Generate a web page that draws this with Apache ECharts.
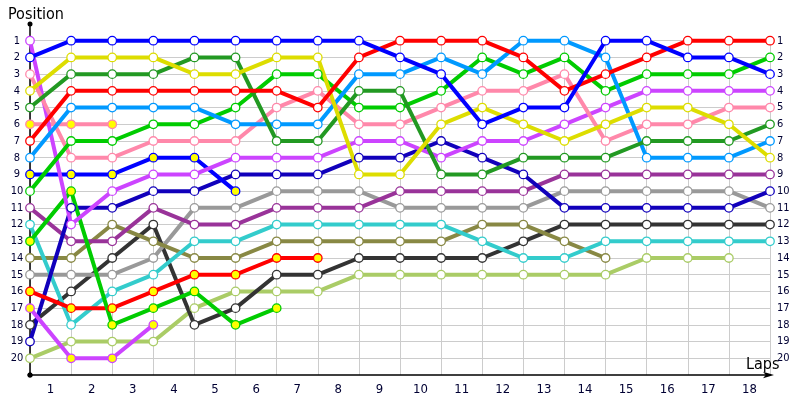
<!DOCTYPE html>
<html>
<head>
<meta charset="utf-8">
<script src="https://cdn.jsdelivr.net/npm/echarts@6/dist/echarts.min.js"></script>
<style>
html,body{margin:0;padding:0;background:#fff;}
#chart{width:800px;height:400px;}
</style>
</head>
<body>
<div id="chart"></div>
<script>
// Laps 0 (start) .. 18
const laps = [0,1,2,3,4,5,6,7,8,9,10,11,12,13,14,15,16,17,18];
const lapLabels = ['1','2','3','4','5','6','7','8','9','10','11','12','13','14','15','16','17','18'];
const positionTicks = [1,2,3,4,5,6,7,8,9,10,11,12,13,14,15,16,17,18,19,20];

// Position per lap (null = not running)
const posBlue       = [2,1,1,1,1,1,1,1,1,2,3,6,5,5,1,1,2,2,3];
const posYellow     = [4,2,2,2,3,3,2,2,9,9,6,5,6,7,6,5,5,6,8];
const posDarkGreen  = [5,3,3,3,2,2,7,7,4,4,9,9,8,8,8,7,7,7,6];
const posRed        = [7,4,4,4,4,4,4,5,2,1,1,1,2,4,3,2,1,1,1];
const posLightBlue  = [8,5,5,5,5,6,6,6,3,3,2,3,1,1,2,8,8,8,7];
const posPink       = [3,8,8,7,7,7,5,4,6,6,5,4,4,3,7,6,6,5,5];
const posPinkOut    = [6,6,6];
const posGreen      = [10,7,7,6,6,5,3,3,5,5,4,2,3,2,4,3,3,3,2];
const posBlueOut    = [9,9,9,8,8,10];
const posViolet     = [1,12,10,9,9,8,8,8,7,7,8,7,7,6,5,4,4,4,4];
const posVioletOut  = [17,20,20,18];
const posDarkBlue   = [19,11,11,10,10,9,9,9,8,8,7,8,9,11,11,11,11,11,10];
const posPurple     = [11,13,13,11,12,12,11,11,11,10,10,10,10,9,9,9,9,9,9];
const posCyan       = [12,18,16,15,13,13,12,12,12,12,12,13,14,14,13,13,13,13,13];
const posOlive      = [14,14,12,13,14,14,13,13,13,13,13,12,12,13,14];
const posGray       = [15,15,15,14,11,11,10,10,10,11,11,11,11,10,10,10,10,10,11];
const posDarkGray   = [18,16,14,12,18,17,15,15,14,14,14,14,13,12,12,12,12,12,12];
const posRedOut     = [16,17,17,16,15,15,14,14];
const posGreenOut   = [13,10,18,17,16,18,17];
const posLightGreen = [20,19,19,19,17,16,16,16,15,15,15,15,15,15,15,14,14,14];

const drivers = [
  {pos: posLightGreen, color:'#aacc66', fill:'#ffffff'},
  {pos: posDarkGray,   color:'#333333', fill:'#ffffff'},
  {pos: posGray,       color:'#999999', fill:'#ffffff'},
  {pos: posOlive,      color:'#888844', fill:'#ffffff'},
  {pos: posCyan,       color:'#33cccc', fill:'#ffffff'},
  {pos: posPurple,     color:'#993399', fill:'#ffffff'},
  {pos: posDarkBlue,   color:'#1100bb', fill:'#ffffff'},
  {pos: posRedOut,     color:'#ff0000', fill:'#ffff00'},
  {pos: posGreenOut,   color:'#00cc00', fill:'#ffff00'},
  {pos: posVioletOut,  color:'#cc44ff', fill:'#ffff00'},
  {pos: posBlueOut,    color:'#0000ff', fill:'#ffff00'},
  {pos: posPinkOut,    color:'#ff88aa', fill:'#ffff00'},
  {pos: posViolet,     color:'#cc44ff', fill:'#ffffff'},
  {pos: posPink,       color:'#ff88aa', fill:'#ffffff'},
  {pos: posGreen,      color:'#00cc00', fill:'#ffffff'},
  {pos: posLightBlue,  color:'#0099ff', fill:'#ffffff'},
  {pos: posDarkGreen,  color:'#229922', fill:'#ffffff'},
  {pos: posYellow,     color:'#dddd00', fill:'#ffffff'},
  {pos: posRed,        color:'#ff0000', fill:'#ffffff'},
  {pos: posBlue,       color:'#0000ff', fill:'#ffffff'}
];

const labelColor = '#000033';
const fontFam = '"DejaVu Sans Condensed", "DejaVu Sans", sans-serif';

const series = drivers.map(d => ({
  type: 'line',
  xAxisIndex: 0,
  yAxisIndex: 0,
  data: d.pos.map((p, i) => [laps[i], p]),
  symbol: 'circle',
  symbolSize: 8.5,
  showAllSymbol: true,
  animation: false,
  lineStyle: {color: d.color, width: 4},
  itemStyle: {color: d.fill, borderColor: d.color, borderWidth: 1.3},
  emphasis: {disabled: true},
  z: 3
}));

const chart = echarts.init(document.getElementById('chart'), null, {renderer: 'canvas'});
chart.setOption({
  animation: false,
  backgroundColor: '#ffffff',
  title: [
    {text: 'Position', left: 3, top: 2, textStyle: {fontFamily: fontFam, fontSize: 16, fontWeight: 'normal', color: '#000'}},
    {text: 'Laps', left: 741, top: 352, textStyle: {fontFamily: fontFam, fontSize: 16, fontWeight: 'normal', color: '#000'}}
  ],
  grid: [
    {left: 30, right: 30, top: 24, bottom: 25},
    {left: 30, right: 30, top: 36, bottom: 25}
  ],
  xAxis: [
    {
      type: 'value', gridIndex: 0, min: 0, max: 18, interval: 1, position: 'bottom',
      axisLine: {show: true, onZero: false, lineStyle: {color: '#000', width: 1.5}, symbol: ['circle', 'arrow'], symbolSize: [5, 11], symbolOffset: [0, 4]},
      axisTick: {show: false}, axisLabel: {show: false}, splitLine: {show: false}
    },
    {
      type: 'category', gridIndex: 0, data: lapLabels, boundaryGap: true, position: 'bottom',
      axisLine: {show: false, onZero: false}, axisTick: {show: false}, splitLine: {show: false},
      axisLabel: {show: true, color: labelColor, fontFamily: fontFam, fontSize: 13, margin: 8, interval: 0}
    },
    {
      type: 'value', gridIndex: 1, min: 0, max: 18, interval: 1,
      axisLine: {show: false}, axisTick: {show: false}, axisLabel: {show: false},
      splitLine: {show: true, lineStyle: {color: '#cccccc', width: 1}}
    }
  ],
  yAxis: [
    {
      type: 'value', gridIndex: 0, inverse: true, min: 0, max: 21, interval: 1, position: 'left',
      axisLine: {show: true, onZero: false, lineStyle: {color: '#000', width: 1.5}, symbol: ['circle', 'circle'], symbolSize: [5, 5]},
      axisTick: {show: false},
      splitLine: {show: true, showMinLine: false, showMaxLine: false, lineStyle: {color: '#cccccc', width: 1}},
      axisLabel: {
        show: true, color: labelColor, fontFamily: fontFam, fontSize: 11, margin: 13, align: 'center',
        formatter: v => positionTicks.indexOf(v) >= 0 ? String(v) : ''
      }
    },
    {
      type: 'value', gridIndex: 0, inverse: true, min: 0, max: 21, interval: 1, position: 'right',
      axisLine: {show: false, onZero: false}, axisTick: {show: false}, splitLine: {show: false},
      axisLabel: {
        show: true, color: labelColor, fontFamily: fontFam, fontSize: 11, margin: 7, align: 'left',
        formatter: v => positionTicks.indexOf(v) >= 0 ? String(v) : ''
      }
    },
    {type: 'value', gridIndex: 1, min: 0, max: 1, show: false}
  ],
  series: series
});
</script>
</body>
</html>
